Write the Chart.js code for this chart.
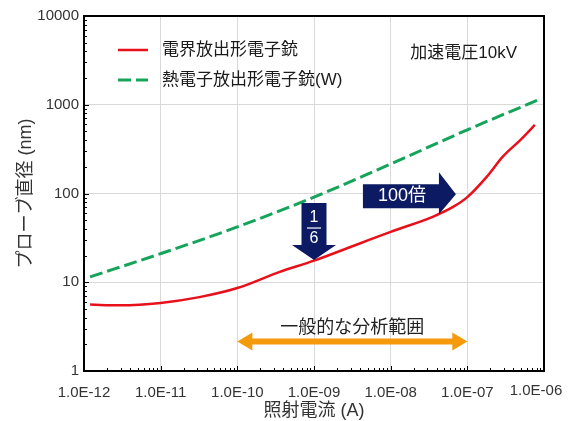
<!DOCTYPE html>
<html>
<head>
<meta charset="utf-8">
<script src="https://cdn.jsdelivr.net/npm/chart.js@4/dist/chart.umd.min.js"></script>
<style>
  html, body { margin: 0; padding: 0; background: #fff; }
</style>
</head>
<body>
<canvas id="chart" width="571" height="421"></canvas>
<script>
// Data (current in A, probe diameter in nm)
const feCurrent = [1.2e-12, 3e-12, 1e-11, 3.2e-11, 1e-10, 3.5e-10, 1e-9, 3.8e-9, 1e-8, 3.6e-8, 6.6e-8, 1e-7, 1.8e-7, 2.9e-7, 4.9e-7, 7.6e-7];
const feDiameter = [5.6, 5.5, 5.85, 6.8, 8.6, 13, 17.5, 27, 37, 55, 71, 91, 155, 260, 400, 592];
const thCurrent = [1.2e-12, 1e-11, 1e-10, 1e-9, 1e-8, 1e-7, 8.1e-7];
const thDiameter = [11.5, 21, 42, 91, 215, 522, 1120];

const xTicks = [1e-12, 1e-11, 1e-10, 1e-9, 1e-8, 1e-7, 1e-6];
const yTicks = [1, 10, 100, 1000, 10000];

const seriesLabels = ['電界放出形電子銃', '熱電子放出形電子銃(W)'];
const voltageNote = '加速電圧10kV';
const rangeNote = '一般的な分析範囲';

const RED = '#e8101a';
const GREEN = '#16a35a';
const NAVY = '#0b1a62';
const ORANGE = '#f59a0c';
const FONT = "'Liberation Sans', 'Noto Sans CJK JP', sans-serif";

const fmtCurrent = v => Number(v).toExponential(1).toUpperCase().replace(/E-(\d)$/, 'E-0$1');

function line(ctx, x1, y1, x2, y2) {
    ctx.beginPath();
    ctx.moveTo(x1, y1);
    ctx.lineTo(x2, y2);
    ctx.stroke();
}

const decor = {
    id: 'decor',
    afterDatasetsDraw(chart) {
        const { ctx, chartArea: a, scales: { x, y } } = chart;
        ctx.save();

        // minor ticks inside the frame
        ctx.strokeStyle = '#000';
        ctx.lineWidth = 1;
        for (let e = -12; e < -6; e++) {
            for (let m = 1; m < 10; m++) {
                const px = Math.round(x.getPixelForValue(m * Math.pow(10, e))) + 0.5;
                line(ctx, px, a.bottom, px, a.bottom - (m === 1 ? 5 : 3));
            }
        }
        for (let e = 0; e < 4; e++) {
            for (let m = 1; m < 10; m++) {
                const py = Math.round(y.getPixelForValue(m * Math.pow(10, e))) + 0.5;
                line(ctx, a.left, py, a.left + (m === 1 ? 5 : 3), py);
            }
        }

        // frame
        ctx.lineWidth = 2;
        ctx.strokeRect(a.left, a.top, a.right - a.left, a.bottom - a.top);

        // last x label sits a little left of its tick, as in the original
        ctx.fillStyle = '#333';
        ctx.font = '15px ' + FONT;
        ctx.textAlign = 'center';
        ctx.textBaseline = 'middle';
        ctx.fillText(fmtCurrent(xTicks[xTicks.length - 1]), x.getPixelForValue(1e-6) - 8, a.bottom + 20);

        // legend
        ctx.font = '17px ' + FONT;
        ctx.textAlign = 'left';
        ctx.fillStyle = '#1a1a1a';
        ctx.lineWidth = 2.5;
        ctx.strokeStyle = RED;
        line(ctx, a.left + 34, a.top + 34, a.left + 64, a.top + 34);
        ctx.fillText(seriesLabels[0], a.left + 78, a.top + 34);
        ctx.strokeStyle = GREEN;
        ctx.lineWidth = 3;
        ctx.setLineDash([13, 5]);
        line(ctx, a.left + 34, a.top + 64, a.left + 64, a.top + 64);
        ctx.setLineDash([]);
        ctx.fillText(seriesLabels[1], a.left + 78, a.top + 64);
        ctx.textAlign = 'right';
        ctx.fillText(voltageNote, a.right - 27, a.top + 37);

        // 1/6 arrow pointing down at the FE curve
        let tx = x.getPixelForValue(1e-9), ty = y.getPixelForValue(17.8);
        ctx.fillStyle = NAVY;
        ctx.beginPath();
        ctx.moveTo(tx - 12.5, ty - 57);
        ctx.lineTo(tx + 12.5, ty - 57);
        ctx.lineTo(tx + 12.5, ty - 15);
        ctx.lineTo(tx + 22, ty - 15);
        ctx.lineTo(tx, ty);
        ctx.lineTo(tx - 22, ty - 15);
        ctx.lineTo(tx - 12.5, ty - 15);
        ctx.closePath();
        ctx.fill();
        ctx.fillStyle = '#fff';
        ctx.strokeStyle = '#fff';
        ctx.lineWidth = 1.2;
        ctx.textAlign = 'center';
        ctx.font = '16px ' + FONT;
        ctx.fillText('1', tx, ty - 42);
        line(ctx, tx - 7, ty - 32, tx + 7, ty - 32);
        ctx.fillText('6', tx, ty - 21);

        // 100x arrow pointing right
        tx = x.getPixelForValue(7.1e-8);
        ty = y.getPixelForValue(98);
        ctx.fillStyle = NAVY;
        ctx.beginPath();
        ctx.moveTo(tx - 93, ty - 10);
        ctx.lineTo(tx - 17, ty - 10);
        ctx.lineTo(tx - 17, ty - 22);
        ctx.lineTo(tx, ty);
        ctx.lineTo(tx - 17, ty + 20);
        ctx.lineTo(tx - 17, ty + 14);
        ctx.lineTo(tx - 93, ty + 14);
        ctx.closePath();
        ctx.fill();
        ctx.fillStyle = '#fff';
        ctx.font = '18px ' + FONT;
        ctx.fillText('100倍', tx - 54, ty + 2);

        // orange range arrow
        const x1 = x.getPixelForValue(1e-10), x2 = x.getPixelForValue(1e-7);
        const yy = y.getPixelForValue(2.15);
        ctx.fillStyle = ORANGE;
        ctx.beginPath();
        ctx.moveTo(x1, yy);
        ctx.lineTo(x1 + 15, yy - 9);
        ctx.lineTo(x1 + 15, yy - 3);
        ctx.lineTo(x2 - 15, yy - 3);
        ctx.lineTo(x2 - 15, yy - 9);
        ctx.lineTo(x2, yy);
        ctx.lineTo(x2 - 15, yy + 9);
        ctx.lineTo(x2 - 15, yy + 3);
        ctx.lineTo(x1 + 15, yy + 3);
        ctx.lineTo(x1 + 15, yy + 9);
        ctx.closePath();
        ctx.fill();
        ctx.fillStyle = '#222';
        ctx.font = '18px ' + FONT;
        ctx.fillText(rangeNote, x.getPixelForValue(3.16e-9), y.getPixelForValue(3.05));

        ctx.restore();
    }
};

new Chart(document.getElementById('chart'), {
    type: 'line',
    data: {
        datasets: [{
            label: seriesLabels[0],
            data: feCurrent.map((c, i) => ({ x: c, y: feDiameter[i] })),
            borderColor: RED,
            borderWidth: 2.5,
            pointRadius: 0,
            cubicInterpolationMode: 'monotone'
        }, {
            label: seriesLabels[1],
            data: thCurrent.map((c, i) => ({ x: c, y: thDiameter[i] })),
            borderColor: GREEN,
            borderWidth: 3,
            borderDash: [13, 5],
            pointRadius: 0,
            cubicInterpolationMode: 'monotone'
        }]
    },
    options: {
        responsive: false,
        animation: false,
        layout: { padding: { top: 16, right: 27, left: 0, bottom: 0 } },
        plugins: { legend: { display: false }, tooltip: { enabled: false } },
        scales: {
            x: {
                type: 'logarithmic',
                min: 1e-12,
                max: 1e-6,
                afterBuildTicks: s => { s.ticks = xTicks.map(v => ({ value: v })); },
                afterFit: s => { s.height = 50; },
                ticks: {
                    padding: 13,
                    color: '#333',
                    font: { family: FONT, size: 15 },
                    maxRotation: 0,
                    autoSkip: false,
                    callback: v => (v >= 1e-6 ? '' : fmtCurrent(v))
                },
                grid: { color: '#d9d9d9', drawTicks: false },
                border: { display: false },
                title: {
                    display: true,
                    text: '照射電流 (A)',
                    color: '#333',
                    font: { family: FONT, size: 18, lineHeight: 1 },
                    padding: { top: 0, bottom: 1 }
                }
            },
            y: {
                type: 'logarithmic',
                min: 1,
                max: 10000,
                afterBuildTicks: s => { s.ticks = yTicks.map(v => ({ value: v })); },
                afterFit: s => { s.width = 84; },
                ticks: {
                    padding: 5,
                    color: '#333',
                    font: { family: FONT, size: 15 },
                    callback: v => String(v)
                },
                grid: { color: '#d9d9d9', drawTicks: false },
                border: { display: false },
                title: {
                    display: true,
                    text: 'プローブ直径 (nm)',
                    color: '#333',
                    font: { family: FONT, size: 18, lineHeight: 1 },
                    padding: { top: 17, bottom: 0 }
                }
            }
        }
    },
    plugins: [decor]
});
</script>
</body>
</html>
